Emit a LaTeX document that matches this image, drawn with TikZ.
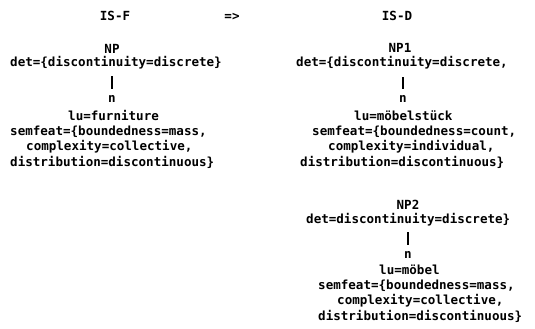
\documentclass[tikz,border=0pt]{standalone}
\usepackage{fontspec}
\setmainfont{DejaVu Sans Mono}
\usetikzlibrary{calc}
\begin{document}
\begin{tikzpicture}[x=1bp,y=-1bp,
  txt/.style={font=\bfseries\fontsize{12.6}{14}\selectfont, inner sep=0pt, anchor=base west},
  ctr/.style={font=\bfseries\fontsize{12.6}{14}\selectfont, inner sep=0pt, anchor=base},
  bar/.style={line width=1.5bp}]
\useasboundingbox (0,0) rectangle (535,328);
% headings
\node[ctr] (isf) at (115,20) {IS-F};
\node[ctr] (arr) at (232,20) {=>};
\node[ctr] (isd) at (397,20) {IS-D};
% left tree
\node[ctr] (np) at (112,53) {NP};
\node[txt] (npdet) at (10,66) {det=\{discontinuity=discrete\}};
\node[ctr] (npn) at (112,102) {n};
\node[txt] (nplu) at (68,120) {lu=furniture};
\node[txt] (npsem) at (10,135) {semfeat=\{boundedness=mass,};
\node[txt] (npcx) at (26,150) {complexity=collective,};
\node[txt] (npdist) at (10,166) {distribution=discontinuous\}};
\draw[bar] ($(npn.base |- npdet.base)+(0,10)$) -- ($(npn.base)+(0,-13)$);
% right tree 1
\node[ctr] (npa) at (400,52) {NP1};
\node[txt] (npadet) at (296,66) {det=\{discontinuity=discrete,};
\node[ctr] (npan) at (403,102) {n};
\node[txt] (npalu) at (354,120) {lu=möbelstück};
\node[txt] (npasem) at (312,135) {semfeat=\{boundedness=count,};
\node[txt] (npacx) at (328,150) {complexity=individual,};
\node[txt] (npadist) at (300,166) {distribution=discontinuous\}};
\draw[bar] ($(npan.base |- npadet.base)+(0,11)$) -- ($(npan.base)+(0,-13)$);
% right tree 2
\node[ctr] (npb) at (408,209) {NP2};
\node[txt] (npbdet) at (306,223) {det=discontinuity=discrete\}};
\node[ctr] (npbn) at (408,258) {n};
\node[txt] (npblu) at (379,274) {lu=möbel};
\node[txt] (npbsem) at (318,289) {semfeat=\{boundedness=mass,};
\node[txt] (npbcx) at (337,304) {complexity=collective,};
\node[txt] (npbdist) at (318,320) {distribution=discontinuous\}};
\draw[bar] ($(npbn.base |- npbdet.base)+(0,9)$) -- ($(npbn.base)+(0,-13)$);
\end{tikzpicture}
\end{document}
